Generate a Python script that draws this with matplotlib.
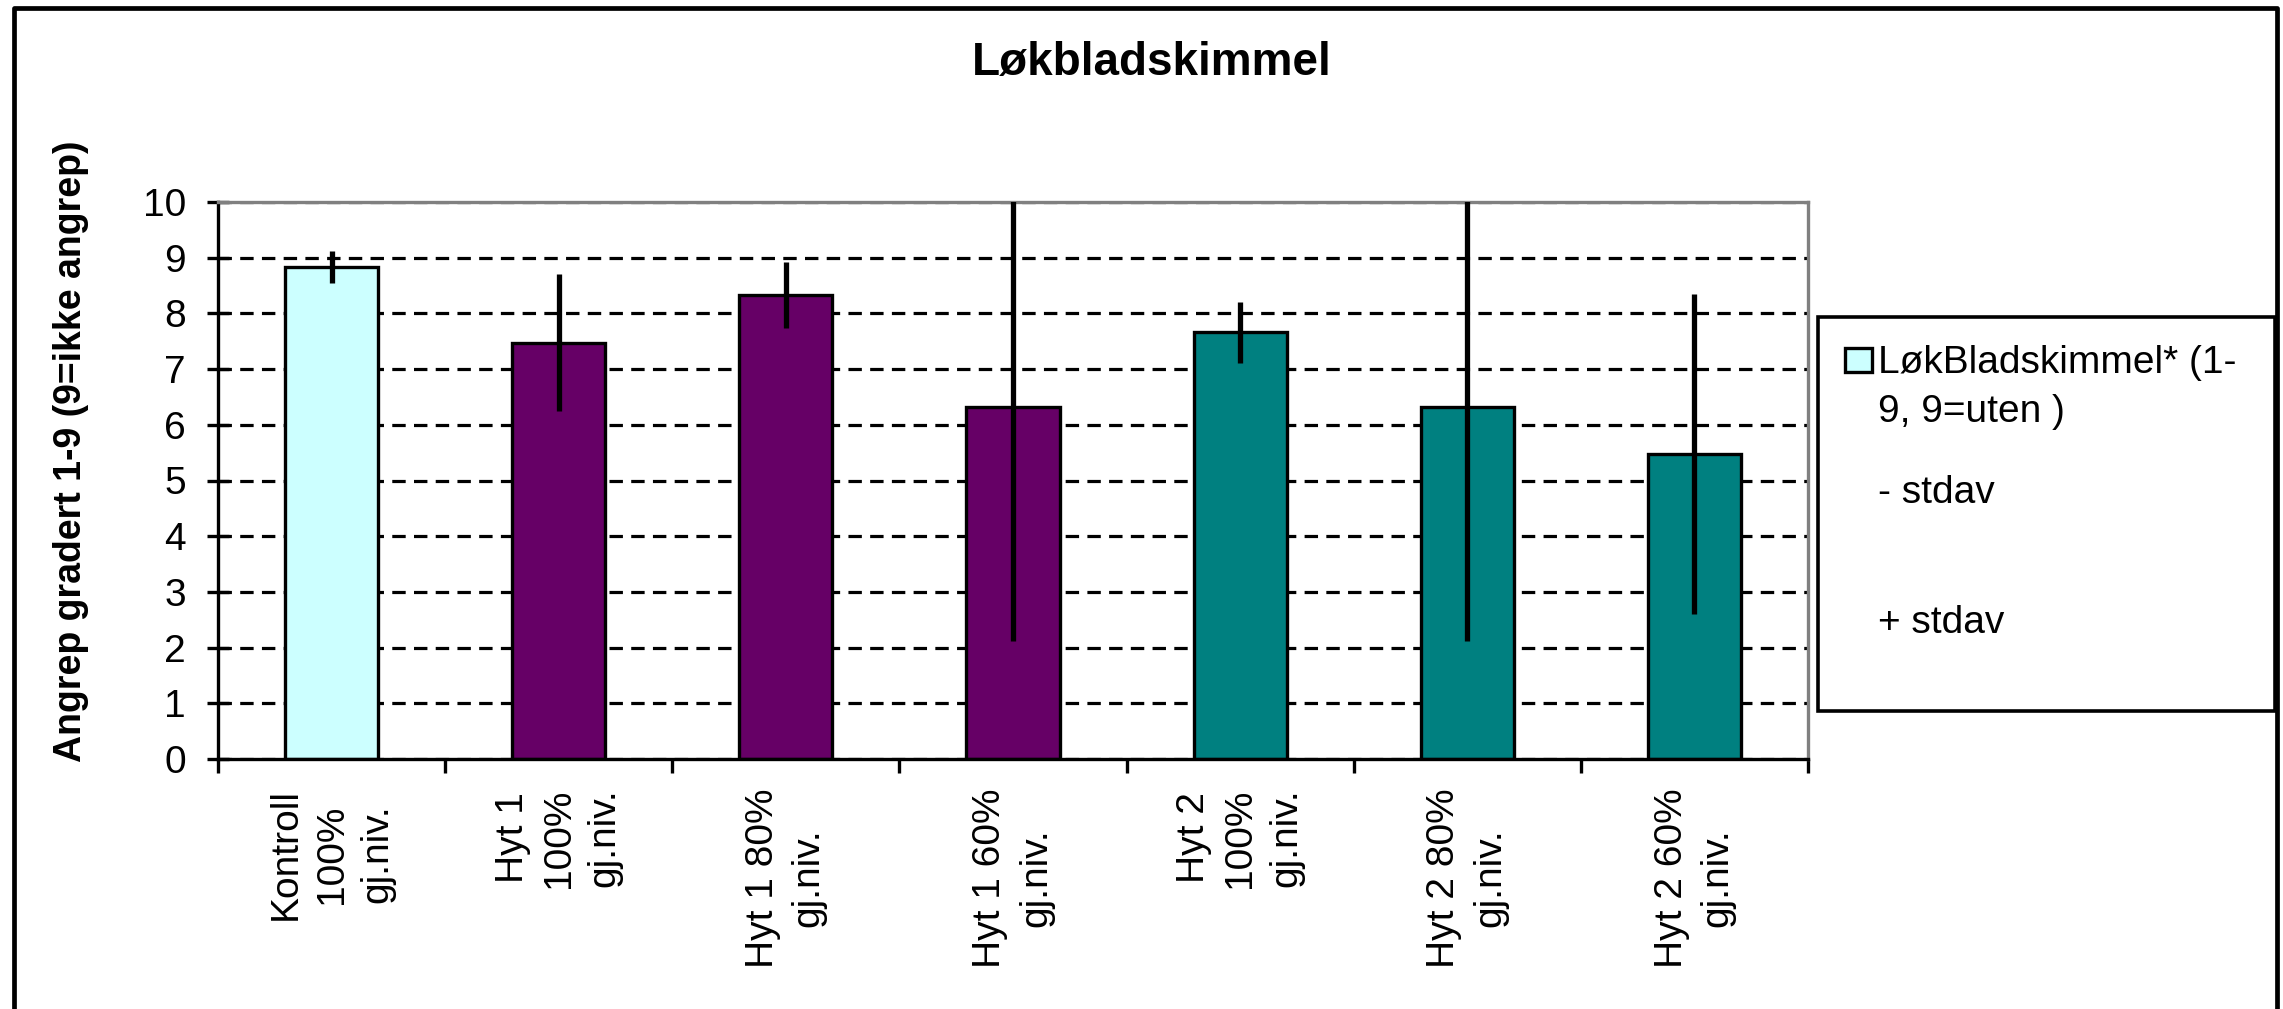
import numpy as np
import matplotlib
matplotlib.use('Agg')
import matplotlib.pyplot as plt
from matplotlib.patches import Rectangle
from matplotlib.lines import Line2D

plt.rcParams['font.family'] = ['Liberation Sans', 'DejaVu Sans']

# data
labels = ['Kontroll\n100%\ngj.niv.', 'Hyt 1\n100%\ngj.niv.', 'Hyt 1 80%\ngj.niv.',
          'Hyt 1 60%\ngj.niv.', 'Hyt 2\n100%\ngj.niv.', 'Hyt 2 80%\ngj.niv.',
          'Hyt 2 60%\ngj.niv.']
means = [8.83, 7.47, 8.33, 6.32, 7.66, 6.32, 5.47]
stdav = [0.29, 1.23, 0.60, 4.21, 0.55, 4.21, 2.87]
bar_colors = ['#CCFFFF', '#660066', '#660066', '#660066', '#008080', '#008080', '#008080']
yticks = list(range(0, 11))

W, H = 2283, 1009
fig = plt.figure(figsize=(W / 100, H / 100), dpi=100)
ax = fig.add_axes([218 / W, 1 - 759 / H, (1808 - 218) / W, (759 - 202) / H])

x = np.arange(len(means))
ax.bar(x, means, width=0.41, color=bar_colors, edgecolor='black', linewidth=2.4, zorder=2)
ax.errorbar(x, means, yerr=stdav, fmt='none', ecolor='black', elinewidth=3.8, capsize=0, zorder=3)

ax.set_xlim(-0.5, len(means) - 0.5)
ax.set_ylim(0, 10)
ax.set_yticks(yticks)
ax.set_yticklabels([str(v) for v in yticks], fontsize=28)
ax.set_axisbelow(True)
ax.yaxis.grid(True, color='black', linewidth=2.3, linestyle=(0, (4.2, 2.6)))

ax.set_xticks(x)
ax.set_xticklabels(labels, rotation=90, fontsize=28, ha='center', va='top',
                   multialignment='center', linespacing=1.35)
ax.set_xticks(np.arange(-0.5, len(means)), minor=True)
ax.tick_params(axis='x', which='major', length=0, pad=21)
ax.tick_params(axis='x', which='minor', direction='out', length=10, width=2.4)
ax.tick_params(axis='y', direction='inout', length=16, width=2.4, pad=15)

for s in ['left', 'bottom']:
    ax.spines[s].set_color('black')
    ax.spines[s].set_linewidth(2.4)
for s in ['top', 'right']:
    ax.spines[s].set_color('#808080')
    ax.spines[s].set_linewidth(2.4)

fig.text(1152 / W, 1 - 63 / H, 'Løkbladskimmel', fontsize=33, fontweight='bold',
         ha='center', va='center')
fig.text(71 / W, 1 - 451 / H, 'Angrep gradert 1-9 (9=ikke angrep)', fontsize=27,
         fontweight='bold', rotation=90, ha='center', va='center')

# legend box, drawn by hand like the Excel one
fig.patches.append(Rectangle((1818 / W, 1 - 711 / H), (2275 - 1818) / W, (711 - 317) / H,
                             transform=fig.transFigure, fill=False, edgecolor='black', linewidth=2.6))
fig.patches.append(Rectangle((1845 / W, 1 - 372 / H), 27 / W, 24 / H,
                             transform=fig.transFigure, facecolor=bar_colors[0], edgecolor='black', linewidth=2.4))
fig.text(1878 / W, 1 - 373 / H, 'LøkBladskimmel* (1-', fontsize=28, va='baseline')
fig.text(1878 / W, 1 - 422 / H, '9, 9=uten )', fontsize=28, va='baseline')
fig.text(1878 / W, 1 - 503 / H, '- stdav', fontsize=28, va='baseline')
fig.text(1878 / W, 1 - 633 / H, '+ stdav', fontsize=28, va='baseline')

# outer chart border (bottom edge falls outside the picture)
fig.lines.append(Line2D([14 / W, 14 / W, 2277 / W, 2277 / W], [-0.05, 1 - 8 / H, 1 - 8 / H, -0.05],
                        transform=fig.transFigure, color='black', linewidth=3.4))

fig.savefig('out.png', dpi=100)
